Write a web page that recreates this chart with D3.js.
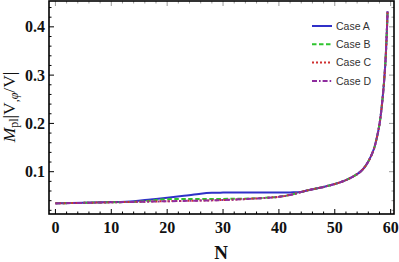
<!DOCTYPE html>
<html><head><meta charset="utf-8">
<script src="https://cdn.jsdelivr.net/npm/d3@7"></script>
<style>body{margin:0;background:#fff}svg{display:block}</style>
</head><body>
<svg id="c" width="399" height="262"></svg>
<script>
// ---- data ----
const caseNames = ["Case A", "Case B", "Case C", "Case D"];
const nCommon = [45, 48, 50, 52, 54, 55, 56, 57, 57.5, 58, 58.5, 59, 59.3, 59.45];
const vCommon = [0.061, 0.0685, 0.0745, 0.0825, 0.095, 0.1045, 0.121, 0.147, 0.169, 0.198, 0.245, 0.315, 0.385, 0.432];

const nA = [0, 5, 10, 14, 17, 20, 23, 26, 28, 30, 35, 40, 42, 44];
const vA = [0.0345, 0.0356, 0.0370, 0.0390, 0.0425, 0.0460, 0.0500, 0.0545, 0.0563, 0.0567, 0.0567, 0.0568, 0.0571, 0.0580];

const nB = [0, 5, 10, 15, 17, 19, 22, 25, 30, 33, 35, 40, 42];
const vB = [0.0345, 0.0355, 0.0367, 0.0378, 0.0400, 0.0425, 0.0435, 0.0436, 0.0437, 0.0440, 0.0445, 0.0482, 0.052];

const nC = [0, 5, 10, 15, 20, 25, 30, 35, 40, 42];
const vC = [0.0345, 0.0355, 0.0366, 0.0377, 0.0389, 0.0400, 0.0414, 0.0440, 0.0480, 0.0520];

const nD = [0, 5, 10, 15, 20, 25, 30, 35, 40, 42];
const vD = [0.0344, 0.0354, 0.0365, 0.0376, 0.0388, 0.0399, 0.0413, 0.0439, 0.0479, 0.0519];

const xTicks = [0, 10, 20, 30, 40, 50, 60];
const yTicks = [0.1, 0.2, 0.3, 0.4];

// ---- styles ----
const colors = ["#3030c8", "#2ec42e", "#d03030", "#8e2c9e"];
const dashes = [null, "4.5,2.5", "2,2", "5,2,1.6,2"];

const svg = d3.select("#c");
const x = d3.scaleLinear().domain([-1.15, 60.6]).range([49, 394]);
const y = d3.scaleLinear().domain([0.0124, 0.4535]).range([214, 1]);

const series = [
  {n: nA.concat(nCommon), v: vA.concat(vCommon)},
  {n: nB.concat(nCommon), v: vB.concat(vCommon)},
  {n: nC.concat(nCommon), v: vC.concat(vCommon)},
  {n: nD.concat(nCommon), v: vD.concat(vCommon)}
];

const line = d3.line().x(d => x(d[0])).y(d => y(d[1])).curve(d3.curveCatmullRom.alpha(0.5));
svg.append("clipPath").attr("id", "cp").append("rect")
  .attr("x", 49).attr("y", 1).attr("width", 345).attr("height", 213);

const g = svg.append("g").attr("clip-path", "url(#cp)");
series.forEach((s, i) => {
  g.append("path")
    .datum(s.n.map((nv, j) => [nv, s.v[j]]))
    .attr("d", line)
    .attr("fill", "none")
    .attr("stroke", colors[i])
    .attr("stroke-width", 2)
    .attr("stroke-dasharray", dashes[i]);
});

// ---- frame ticks (inside) ----
const xMinor = d3.range(0, 61, 2).filter(t => t % 10 !== 0);
const yMinor = d3.range(0.02, 0.451, 0.02).filter(t => Math.abs(t * 10 - Math.round(t * 10)) > 1e-6);
const tk = svg.append("g").attr("stroke", "#000").attr("stroke-width", 1);
xTicks.forEach(t => {
  tk.append("line").attr("x1", x(t)).attr("x2", x(t)).attr("y1", 214).attr("y2", 209);
  tk.append("line").attr("x1", x(t)).attr("x2", x(t)).attr("y1", 1).attr("y2", 6).attr("stroke", "#999");
});
xMinor.forEach(t => {
  tk.append("line").attr("x1", x(t)).attr("x2", x(t)).attr("y1", 214).attr("y2", 211.5);
  tk.append("line").attr("x1", x(t)).attr("x2", x(t)).attr("y1", 1).attr("y2", 3.5).attr("stroke", "#999");
});
yTicks.forEach(t => {
  tk.append("line").attr("x1", 49).attr("x2", 54).attr("y1", y(t)).attr("y2", y(t));
  tk.append("line").attr("x1", 394).attr("x2", 389).attr("y1", y(t)).attr("y2", y(t)).attr("stroke", "#999");
});
yMinor.forEach(t => {
  tk.append("line").attr("x1", 49).attr("x2", 51.5).attr("y1", y(t)).attr("y2", y(t));
  tk.append("line").attr("x1", 394).attr("x2", 391.5).attr("y1", y(t)).attr("y2", y(t)).attr("stroke", "#999");
});

// frame
svg.append("rect").attr("x", 49).attr("y", 1).attr("width", 345).attr("height", 213)
  .attr("fill", "none").attr("stroke", "#000").attr("stroke-width", 1.6);

// tick labels
const lab = svg.append("g").attr("font-family", "Liberation Serif, serif").attr("font-weight", "bold")
  .attr("font-size", 16).attr("fill", "#111");
xTicks.forEach(t => {
  lab.append("text").attr("x", x(t)).attr("y", 233).attr("text-anchor", "middle").text(t);
});
yTicks.forEach(t => {
  lab.append("text").attr("x", 45).attr("y", y(t) + 5.5).attr("text-anchor", "end").text(d3.format(".1f")(t));
});

// axis titles
svg.append("text").attr("x", 221).attr("y", 259).attr("text-anchor", "middle")
  .attr("font-family", "Liberation Serif, serif").attr("font-weight", "bold").attr("font-size", 19)
  .attr("fill", "#111").text("N");

const yl = svg.append("text").attr("transform", "translate(15,107) rotate(-90)")
  .attr("text-anchor", "middle").attr("font-family", "Liberation Serif, serif").attr("font-size", 17.5).attr("fill", "#111");
yl.append("tspan").attr("font-style", "italic").text("M");
yl.append("tspan").attr("font-size", 12).attr("dy", 3).text("pl");
yl.append("tspan").attr("dy", -3).text("|V");
yl.append("tspan").attr("font-size", 12).attr("dy", 3).attr("font-style", "italic").text(",φ");
yl.append("tspan").attr("dy", -3).text("/V|");

// legend
const legY = [26, 44.3, 62.6, 81];
caseNames.forEach((name, i) => {
  svg.append("line").attr("x1", 312).attr("x2", 332).attr("y1", legY[i]).attr("y2", legY[i])
    .attr("stroke", colors[i]).attr("stroke-width", 2).attr("stroke-dasharray", dashes[i]);
  svg.append("text").attr("x", 336).attr("y", legY[i] + 3.7)
    .attr("font-family", "Liberation Sans, Arial, sans-serif").attr("font-size", 10.5)
    .attr("fill", "#333").text(name);
});
</script>
</body></html>
